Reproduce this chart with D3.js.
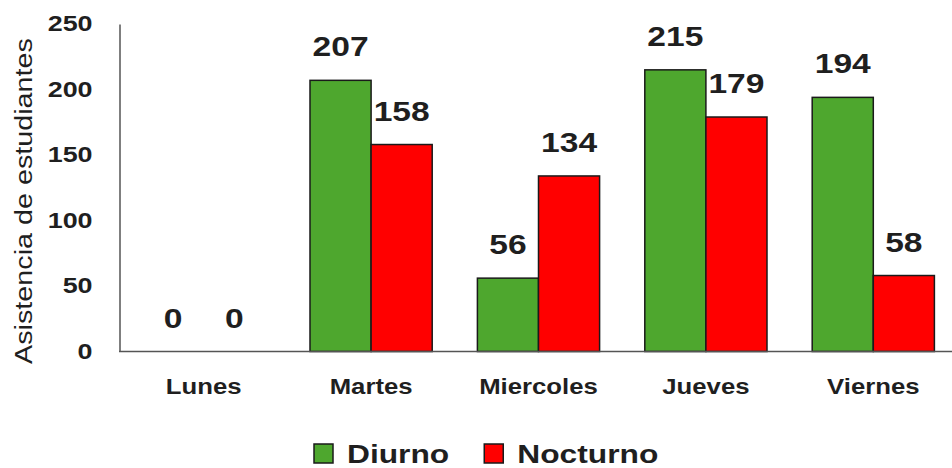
<!DOCTYPE html>
<html>
<head>
<meta charset="utf-8">
<script src="https://cdn.jsdelivr.net/npm/d3@7"></script>
<style>
  html, body { margin: 0; padding: 0; background: #fff; }
  svg { display: block; font-family: "Liberation Sans", Arial, sans-serif; }
</style>
</head>
<body>
<svg id="chart" width="952" height="468"></svg>
<script>
// Asistencia por día y jornada
const dias = ["Lunes", "Martes", "Miercoles", "Jueves", "Viernes"];
const jornadas = ["Diurno", "Nocturno"];
const diurno = [0, 207, 56, 215, 194];
const nocturno = [0, 158, 134, 179, 58];
const yTicks = [0, 50, 100, 150, 200, 250];
const colores = ["#4ea72e", "#ff0000"];
const tituloY = "Asistencia de estudiantes";

const valores = [diurno, nocturno];
const filas = dias.map((d, i) => ({ dia: d, vals: jornadas.map((j, k) => ({ jornada: j, k, v: valores[k][i] })) }));

const svg = d3.select("#chart");
const textColor = "#1f1f1f";
const stretch = 1.2; // wide lettering

const x0 = d3.scaleBand().domain(dias).range([120, 957]).paddingInner(0.27).paddingOuter(0.135);
const x1 = d3.scaleBand().domain(jornadas).range([0, x0.bandwidth()]);
const y = d3.scaleLinear().domain([0, 250]).range([351.5, 24]);

// Eje Y
const yAxis = svg.append("g")
  .attr("transform", "translate(119.5,0)")
  .call(d3.axisLeft(y).tickValues(yTicks).tickSize(0).tickPadding(27));
yAxis.select(".domain").attr("stroke", "#555").attr("stroke-width", 1.5);
yAxis.selectAll("text")
  .attr("font-family", "Liberation Sans, Arial, sans-serif")
  .attr("font-size", 21.5).attr("font-weight", "bold").attr("fill", textColor)
  .attr("transform", `scale(${1.25},1)`)
  .attr("x", -27 / 1.25);

// Título del eje Y
svg.append("text")
  .attr("transform", `translate(32,201) rotate(-90) scale(1.25,1)`)
  .attr("text-anchor", "middle")
  .attr("font-size", 23)
  .attr("fill", textColor)
  .text(tituloY);

// Barras
const grupos = svg.append("g").selectAll("g").data(filas).join("g")
  .attr("transform", d => `translate(${x0(d.dia)},0)`);

grupos.selectAll("rect").data(d => d.vals).join("rect")
  .attr("x", d => x1(d.jornada))
  .attr("y", d => y(d.v))
  .attr("width", x1.bandwidth())
  .attr("height", d => y(0) - y(d.v))
  .attr("fill", d => colores[d.k])
  .attr("stroke", d => d.v > 0 ? "#1a1a1a" : "none")
  .attr("stroke-width", 1.5);

// Etiquetas de valor
grupos.selectAll("text").data(d => d.vals).join("text")
  .attr("transform", d => `translate(${x1(d.jornada) + x1.bandwidth() / 2},${y(d.v) - 24}) scale(${stretch},1)`)
  .attr("text-anchor", "middle")
  .attr("font-size", 28)
  .attr("font-weight", "bold")
  .attr("fill", textColor)
  .text(d => d.v);

// Línea base
svg.append("line")
  .attr("x1", 119).attr("x2", 952)
  .attr("y1", y(0)).attr("y2", y(0))
  .attr("stroke", "#555").attr("stroke-width", 1.5);

// Eje X (etiquetas de categoría)
svg.append("g").selectAll("text").data(dias).join("text")
  .attr("transform", d => `translate(${x0(d) + x0.bandwidth() / 2},394) scale(1.17,1)`)
  .attr("text-anchor", "middle")
  .attr("font-size", 22)
  .attr("font-weight", "bold")
  .attr("fill", textColor)
  .text(d => d);

// Leyenda
const leyenda = svg.append("g");
let lx = 314;
jornadas.forEach((j, k) => {
  leyenda.append("rect")
    .attr("x", lx).attr("y", 444).attr("width", 19).attr("height", 19)
    .attr("fill", colores[k]).attr("stroke", "#1a1a1a").attr("stroke-width", 1.5);
  const t = leyenda.append("text")
    .attr("transform", `translate(${lx + 33},463) scale(1.27,1)`)
    .attr("font-size", 25)
    .attr("font-weight", "bold")
    .attr("fill", textColor)
    .text(j);
  lx += 33 + t.node().getComputedTextLength() * 1.27 + 35;
});
</script>
</body>
</html>
